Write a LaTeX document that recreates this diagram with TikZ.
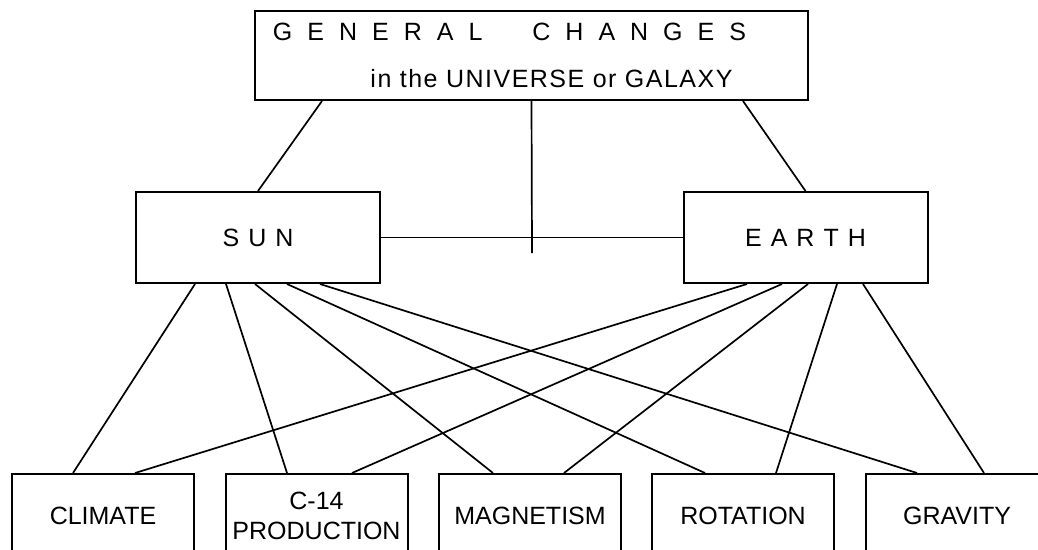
\documentclass[tikz,border=0pt]{standalone}
\usepackage{fontspec}
\setmainfont{Liberation Sans}
\usetikzlibrary{positioning,calc}

\tikzset{
  box/.style={draw, line width=2pt, inner sep=0pt, align=center,
    font=\fontsize{25}{30}\selectfont},
  topbox/.style={box, minimum width=553pt, minimum height=89pt},
  midbox/.style={box, minimum width=244pt, minimum height=91pt},
  lowbox/.style={box, minimum width=182pt, minimum height=84pt},
  link/.style={line width=1.7pt},
}

\begin{document}
\begin{tikzpicture}[x=1pt, y=-1pt]
  \useasboundingbox (0,0) rectangle (1038,549);
  \clip (0,0) rectangle (1038,549);
  % boxes
  \node[topbox] (general) at (531.5,55.5)
    {{\spaceskip=15pt G E N E R A L\hspace{50pt}C H A N G E S}\hspace*{44pt}\\[17pt]
     \hspace*{40pt}{\addfontfeature{LetterSpace=6}in the UNIVERSE or GALAXY}};
  \node[midbox] (sun)   at (258,237.5)   {{\spaceskip=9pt S U N}};
  \node[midbox] (earth) at (805.5,237.5) {{\spaceskip=9pt E A R T H}};
  \node[lowbox] (climate) at (103,516)   {CLIMATE};
  \node[lowbox] (c14)     at (316.5,516) {C-14\\PRODUCTION};
  \node[lowbox] (magnet)  at (530,516)   {MAGNETISM};
  \node[lowbox] (rotation) at (743,516)  {ROTATION};
  \node[lowbox] (gravity) at (957,516)   {GRAVITY};
  \coordinate (stub) at (532,253);
  % top level
  \draw[link] ([xshift=-209.5pt]general.south) -- (sun.north);
  \draw[link] ([xshift=211.5pt]general.south) -- (earth.north);
  \draw[link] (general.south) -- (stub);
  \draw[link] (sun.east) -- (earth.west);
  % from the sun
  \draw[link] ([xshift=-63pt]sun.south) -- ([xshift=-30pt]climate.north);
  \draw[link] ([xshift=-32pt]sun.south) -- ([xshift=-29.5pt]c14.north);
  \draw[link] ([xshift=-3pt]sun.south)  -- ([xshift=-37pt]magnet.north);
  \draw[link] ([xshift=29pt]sun.south)  -- ([xshift=-38pt]rotation.north);
  \draw[link] ([xshift=62pt]sun.south)  -- ([xshift=-40pt]gravity.north);
  % from the earth
  \draw[link] ([xshift=-58.5pt]earth.south) -- ([xshift=32pt]climate.north);
  \draw[link] ([xshift=-23.5pt]earth.south) -- ([xshift=35.5pt]c14.north);
  \draw[link] ([xshift=2.5pt]earth.south)   -- ([xshift=34pt]magnet.north);
  \draw[link] ([xshift=31.5pt]earth.south)  -- ([xshift=33pt]rotation.north);
  \draw[link] ([xshift=57.5pt]earth.south)  -- ([xshift=27pt]gravity.north);
\end{tikzpicture}
\end{document}
